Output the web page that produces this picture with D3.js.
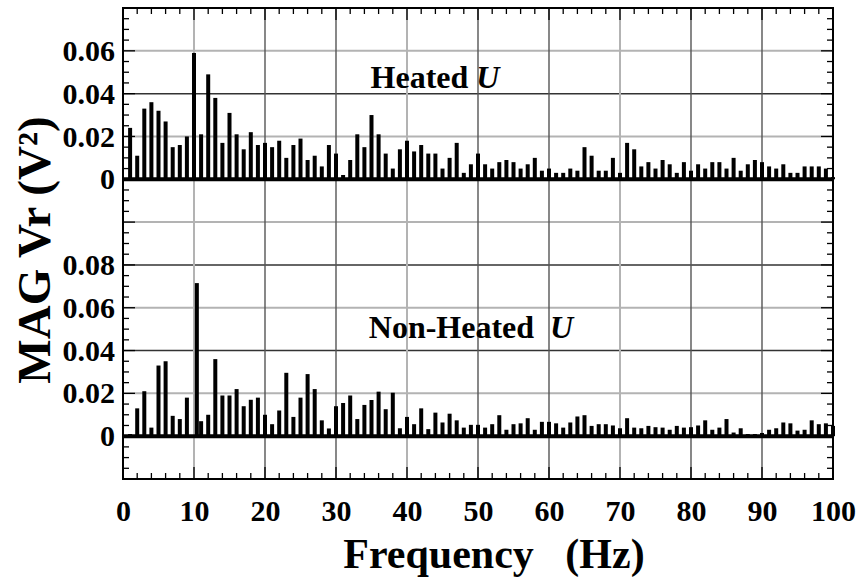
<!DOCTYPE html>
<html>
<head>
<meta charset="utf-8">
<script src="https://cdn.jsdelivr.net/npm/d3@7"></script>
<style>
  body { margin: 0; background: #fff; }
  text { font-family: "Liberation Serif", "DejaVu Serif", serif; font-weight: bold; fill: #000; }
</style>
</head>
<body>
<div id="chart"></div>
<script>
// frequencies (Hz) of the spectral lines
const freqs = [1,2,3,4,5,6,7,8,9,10,11,12,13,14,15,16,17,18,19,20,
  21,22,23,24,25,26,27,28,29,30,31,32,33,34,35,36,37,38,39,40,
  41,42,43,44,45,46,47,48,49,50,51,52,53,54,55,56,57,58,59,60,
  61,62,63,64,65,66,67,68,69,70,71,72,73,74,75,76,77,78,79,80,
  81,82,83,84,85,86,87,88,89,90,91,92,93,94,95,96,97,98,99,100];
// non-heated peak sits a bit right of 10 Hz
const nonHeatedFreqs = [1,2,3,4,5,6,7,8,9,10.4,11,12,13,14,15,16,17,18,19,20,
  21,22,23,24,25,26,27,28,29,30,31,32,33,34,35,36,37,38,39,40,
  41,42,43,44,45,46,47,48,49,50,51,52,53,54,55,56,57,58,59,60,
  61,62,63,64,65,66,67,68,69,70,71,72,73,74,75,76,77,78,79,80,
  81,82,83,84,85,86,87,88,89,90,91,92,93,94,95,96,97,98,99,100];

// MAG Vr (V^2), heated
const heated = [0.024,0.011,0.033,0.036,0.032,0.027,0.015,0.016,0.020,0.059,
  0.021,0.049,0.038,0.017,0.031,0.021,0.014,0.022,0.016,0.017,
  0.015,0.018,0.010,0.016,0.019,0.009,0.011,0.006,0.016,0.012,
  0.002,0.009,0.021,0.015,0.030,0.021,0.012,0.005,0.014,0.018,
  0.013,0.016,0.012,0.012,0.005,0.010,0.017,0.003,0.007,0.012,
  0.007,0.005,0.008,0.009,0.008,0.005,0.007,0.010,0.004,0.005,
  0.003,0.003,0.005,0.004,0.015,0.011,0.004,0.004,0.010,0.003,
  0.017,0.014,0.006,0.008,0.005,0.009,0.007,0.003,0.008,0.004,
  0.007,0.005,0.008,0.008,0.005,0.010,0.004,0.007,0.009,0.008,
  0.006,0.005,0.007,0.003,0.003,0.006,0.006,0.006,0.005,0.001];

// MAG Vr (V^2), non-heated
const nonHeated = [0.001,0.013,0.021,0.004,0.033,0.035,0.0095,0.008,0.018,0.0715,
  0.007,0.010,0.036,0.019,0.019,0.022,0.014,0.017,0.018,0.010,
  0.0056,0.012,0.0296,0.009,0.018,0.029,0.022,0.0074,0.0036,0.014,
  0.0155,0.019,0.008,0.0146,0.0169,0.0208,0.0126,0.0203,0.0037,0.009,
  0.0056,0.013,0.0033,0.011,0.0064,0.0105,0.0074,0.004,0.0053,0.0053,
  0.004,0.0056,0.0098,0.003,0.0056,0.006,0.0084,0.003,0.0067,0.0067,
  0.006,0.004,0.0064,0.0092,0.0098,0.0048,0.0056,0.0056,0.005,0.0037,
  0.0084,0.004,0.0037,0.0048,0.0042,0.004,0.003,0.0048,0.004,0.0042,
  0.005,0.0074,0.003,0.004,0.008,0.0017,0.0037,0.001,0.001,0.0015,
  0.003,0.0037,0.0064,0.006,0.0026,0.003,0.0074,0.0056,0.006,0.0048];

// the heated trace is lifted by this amount on a shared axis
const heatedOffset = 0.12;

const xTicks = [0,10,20,30,40,50,60,70,80,90,100];
const yTickValues = [0, 0.02, 0.04, 0.06, 0.08, 0.12, 0.14, 0.16, 0.18];
const yTickLabels = ["0", "0.02", "0.04", "0.06", "0.08", "0", "0.02", "0.04", "0.06"];

const W = 858, H = 581;
const plotL = 123, plotR = 833, plotT = 8, plotB = 479;

const svg = d3.select("#chart").append("svg")
    .attr("width", W).attr("height", H);

const x = d3.scaleLinear().domain([0, 100]).range([plotL, plotR]);
const y = d3.scaleLinear().domain([-0.02, 0.20]).range([plotB, plotT]);

// grid
const grid = svg.append("g");
d3.range(0, 10).forEach(function(i) {
    const dark = i % 2 === 0;
    grid.append("line")
        .attr("x1", plotL).attr("x2", plotR)
        .attr("y1", y(i * 0.02)).attr("y2", y(i * 0.02))
        .attr("stroke", dark ? "#333" : "#b3b3b3")
        .attr("stroke-width", dark ? 1.5 : 2);
});
d3.range(1, 10).forEach(function(i) {
    const light = [1, 4, 7].includes(i);
    grid.append("line")
        .attr("x1", x(i * 10)).attr("x2", x(i * 10))
        .attr("y1", plotT).attr("y2", plotB)
        .attr("stroke", light ? "#b3b3b3" : "#555")
        .attr("stroke-width", light ? 2 : 1.4);
});

// minor / major ticks, all pointing inward
const yMinor = d3.range(-4, 41).map(i => i * 0.005);
const xMinor = d3.range(0, 51).map(i => i * 2);
function tickLen(isMajor) { return isMajor ? 12 : 6; }

yMinor.forEach(function(v, k) {
    const len = tickLen((k % 4) === 0);
    svg.append("line").attr("x1", plotL).attr("x2", plotL + len)
        .attr("y1", y(v)).attr("y2", y(v)).attr("stroke", "#000").attr("stroke-width", 1.3);
    svg.append("line").attr("x1", plotR - len).attr("x2", plotR)
        .attr("y1", y(v)).attr("y2", y(v)).attr("stroke", "#000").attr("stroke-width", 1.3);
});
xMinor.forEach(function(v) {
    const len = tickLen(v % 10 === 0);
    svg.append("line").attr("x1", x(v)).attr("x2", x(v))
        .attr("y1", plotT).attr("y2", plotT + len).attr("stroke", "#000").attr("stroke-width", 1.3);
    svg.append("line").attr("x1", x(v)).attr("x2", x(v))
        .attr("y1", plotB - len).attr("y2", plotB).attr("stroke", "#000").attr("stroke-width", 1.3);
});

// bars
function drawSeries(fs, vals, offset) {
    const g = svg.append("g");
    g.selectAll("rect")
        .data(vals.map((v, i) => ({f: fs[i], v: v})))
        .join("rect")
        .attr("x", d => x(d.f) - 2)
        .attr("width", 4)
        .attr("y", d => y(d.v + offset))
        .attr("height", d => y(offset) - y(d.v + offset))
        .attr("fill", "#000");
    g.append("line")
        .attr("x1", plotL).attr("x2", plotR)
        .attr("y1", y(offset)).attr("y2", y(offset))
        .attr("stroke", "#000").attr("stroke-width", 4);
}
drawSeries(freqs, heated, heatedOffset);
drawSeries(nonHeatedFreqs, nonHeated, 0);

// frame
svg.append("rect")
    .attr("x", plotL).attr("y", plotT)
    .attr("width", plotR - plotL).attr("height", plotB - plotT)
    .attr("fill", "none").attr("stroke", "#000").attr("stroke-width", 2);

// y labels
const yAxis = d3.axisLeft(y)
    .tickValues(yTickValues)
    .tickSize(0)
    .tickPadding(8)
    .tickFormat((d, i) => yTickLabels[i]);
svg.append("g")
    .attr("transform", "translate(" + plotL + ",0)")
    .call(yAxis)
    .call(g => g.select(".domain").remove())
    .selectAll("text")
    .style("font-family", "'Liberation Serif', serif")
    .style("font-weight", "bold")
    .style("font-size", "30px")
    .attr("fill", "#000");

// x labels
const xAxis = d3.axisBottom(x)
    .tickValues(xTicks)
    .tickSize(0)
    .tickPadding(21)
    .tickFormat(d3.format("d"));
svg.append("g")
    .attr("transform", "translate(0," + plotB + ")")
    .call(xAxis)
    .call(g => g.select(".domain").remove())
    .selectAll("text")
    .style("font-family", "'Liberation Serif', serif")
    .style("font-weight", "bold")
    .style("font-size", "30px")
    .attr("fill", "#000");

// axis titles
svg.append("text")
    .attr("x", 494).attr("y", 568)
    .attr("text-anchor", "middle")
    .style("font-size", "42px")
    .style("white-space", "pre")
    .text("Frequency   (Hz)");

svg.append("text")
    .attr("transform", "translate(50,250) rotate(-90)")
    .attr("text-anchor", "middle")
    .style("font-size", "47px")
    .text("MAG Vr (V²)");

// panel labels
const t1 = svg.append("text")
    .attr("x", 435).attr("y", 88)
    .attr("text-anchor", "middle")
    .style("font-size", "32px")
    .style("white-space", "pre");
t1.append("tspan").text("Heated ");
t1.append("tspan").style("font-style", "italic").text("U");

const t2 = svg.append("text")
    .attr("x", 471).attr("y", 338)
    .attr("text-anchor", "middle")
    .style("font-size", "32px")
    .style("white-space", "pre");
t2.append("tspan").text("Non-Heated  ");
t2.append("tspan").style("font-style", "italic").text("U");
</script>
</body>
</html>
